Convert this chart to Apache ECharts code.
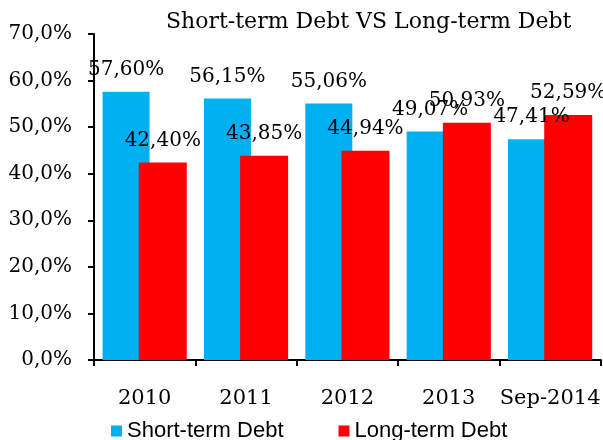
<!DOCTYPE html>
<html>
<head>
<meta charset="utf-8">
<script src="https://cdn.jsdelivr.net/npm/echarts@6/dist/echarts.min.js"></script>
<style>html,body{margin:0;padding:0;background:#fff}#c{width:603px;height:440px}</style>
</head>
<body>
<div id="c"></div>
<script>
var categories = ['2010', '2011', '2012', '2013', 'Sep-2014'];
var shortTerm = [57.60, 56.15, 55.06, 49.07, 47.41];
var longTerm = [42.40, 43.85, 44.94, 50.93, 52.59];
var seriesNames = ['Short-term Debt', 'Long-term Debt'];
var titleText = 'Short-term Debt VS Long-term Debt';

var serif = 'DejaVu Serif';
function pct(v, d) { return v.toFixed(d).replace('.', ',') + '%'; }

var chart = echarts.init(document.getElementById('c'), null, {renderer: 'canvas'});
var labelCfg = {
  show: true, position: 'top', distance: 12,
  fontFamily: serif, fontSize: 20, color: '#000',
  formatter: function (p) { return pct(p.value, 2); }
};
chart.setOption({
  animation: false,
  title: {
    text: titleText, left: 161, top: 6,
    textStyle: {fontFamily: serif, fontSize: 22, fontWeight: 'normal', color: '#000'}
  },
  legend: {
    data: seriesNames, left: 106, top: 415,
    itemWidth: 11, itemHeight: 11, itemGap: 55,
    icon: 'rect',
    textStyle: {fontFamily: 'Liberation Sans', fontSize: 22, color: '#000'}
  },
  grid: {left: 94, right: -3, top: 34, bottom: 80, containLabel: false},
  xAxis: {
    type: 'category', data: categories,
    axisLine: {lineStyle: {color: '#000', width: 2}},
    axisTick: {show: true, length: 6, lineStyle: {color: '#000', width: 2}},
    axisLabel: {fontFamily: serif, fontSize: 21, color: '#000', margin: 28, interval: 0}
  },
  yAxis: {
    type: 'value', min: 0, max: 70, interval: 10,
    axisLine: {show: true, lineStyle: {color: '#000', width: 2}},
    axisTick: {show: true, length: 6, lineStyle: {color: '#000', width: 2}},
    splitLine: {show: false},
    axisLabel: {fontFamily: serif, fontSize: 20, color: '#000', margin: 22,
      formatter: function (v) { return pct(v, 1); }}
  },
  series: [
    {name: seriesNames[0], type: 'bar', data: shortTerm, barWidth: 47, barGap: '-23%',
     itemStyle: {color: '#00B0F0'}, label: labelCfg},
    {name: seriesNames[1], type: 'bar', data: longTerm, barWidth: 48, barGap: '-23%',
     itemStyle: {color: '#FF0000'}, label: labelCfg}
  ]
});
</script>
</body>
</html>
